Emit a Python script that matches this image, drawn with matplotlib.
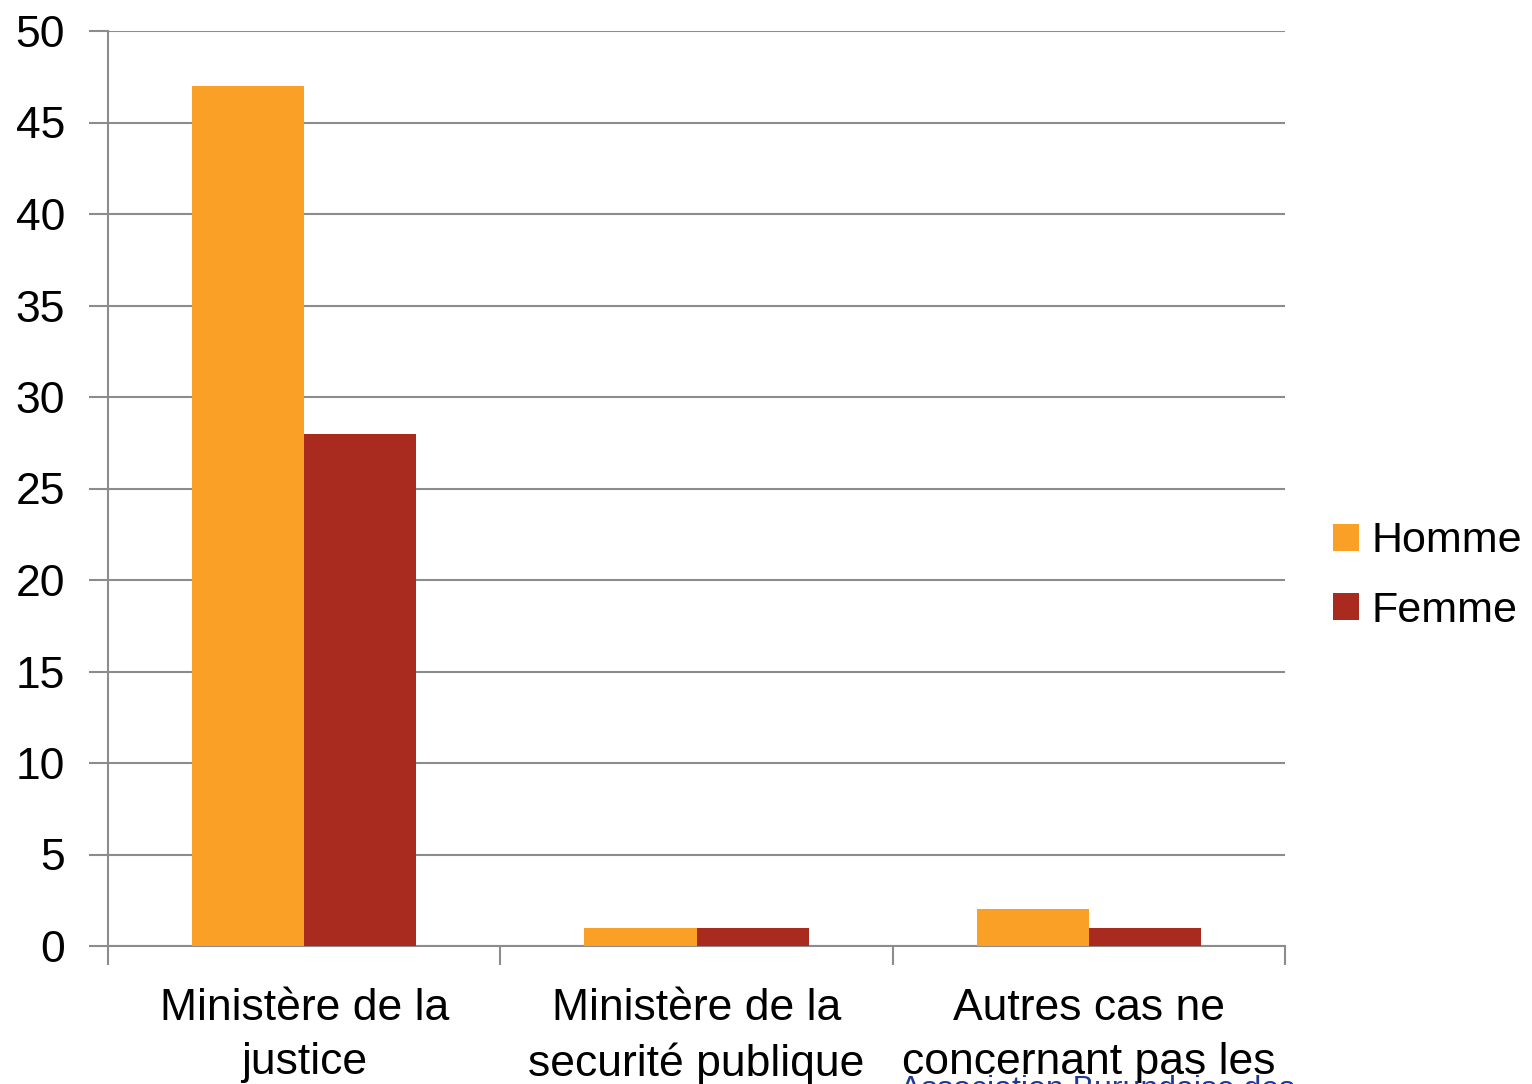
import numpy as np
import matplotlib.pyplot as plt

categories = ['Ministère de la\njustice',
              'Ministère de la\nsecurité publique',
              'Autres cas ne\nconcernant pas les']
homme = [47, 1, 2]
femme = [28, 1, 1]

plt.rcParams['font.family'] = ['Liberation Sans', 'DejaVu Sans']

fig = plt.figure(figsize=(15.32, 10.84), dpi=100)
ax = fig.add_axes([108 / 1532, 1 - 946 / 1084, (1285 - 108) / 1532, (946 - 31) / 1084])

x = np.arange(len(categories))
w = 112 / 392
grid_col = '#8c8c8c'

ax.bar(x - w / 2, homme, w, color='#fba026', label='Homme', zorder=3)
ax.bar(x + w / 2, femme, w, color='#a92b1f', label='Femme', zorder=3)

ax.set_xlim(-0.5, 2.5)
ax.set_ylim(0, 50)
ax.set_yticks(range(0, 51, 5))
ax.yaxis.grid(True, color=grid_col, linewidth=1.5, zorder=0)
ax.tick_params(axis='y', length=14, width=1.5, color=grid_col, labelsize=32, pad=17)

# category ticks sit on the boundaries, labels in the middle
ax.set_xticks([-0.5, 0.5, 1.5, 2.5])
ax.set_xticklabels([])
ax.set_xticks(x, minor=True)
ax.set_xticklabels(categories, minor=True, fontsize=32, linespacing=1.42)
ax.tick_params(axis='x', which='major', length=14, width=1.5, color=grid_col)
ax.tick_params(axis='x', which='minor', length=0, pad=30)

for s in ['top', 'right']:
    ax.spines[s].set_visible(False)
for s in ['left', 'bottom']:
    ax.spines[s].set_color(grid_col)
    ax.spines[s].set_linewidth(1.5)

fig.legend(loc='center left', bbox_to_anchor=(1333 / 1532, 1 - 576 / 1084), frameon=False,
           fontsize=31, borderpad=0, borderaxespad=0, handlelength=0.6, handleheight=0.6,
           handletextpad=0.3, labelspacing=0.68)

fig.text(1097 / 1532, 1 - 1105 / 1084, 'Association Burundaise des', color='#1f3a93',
         fontsize=23, ha='center', va='bottom')

fig.savefig('out.png', dpi=100)
